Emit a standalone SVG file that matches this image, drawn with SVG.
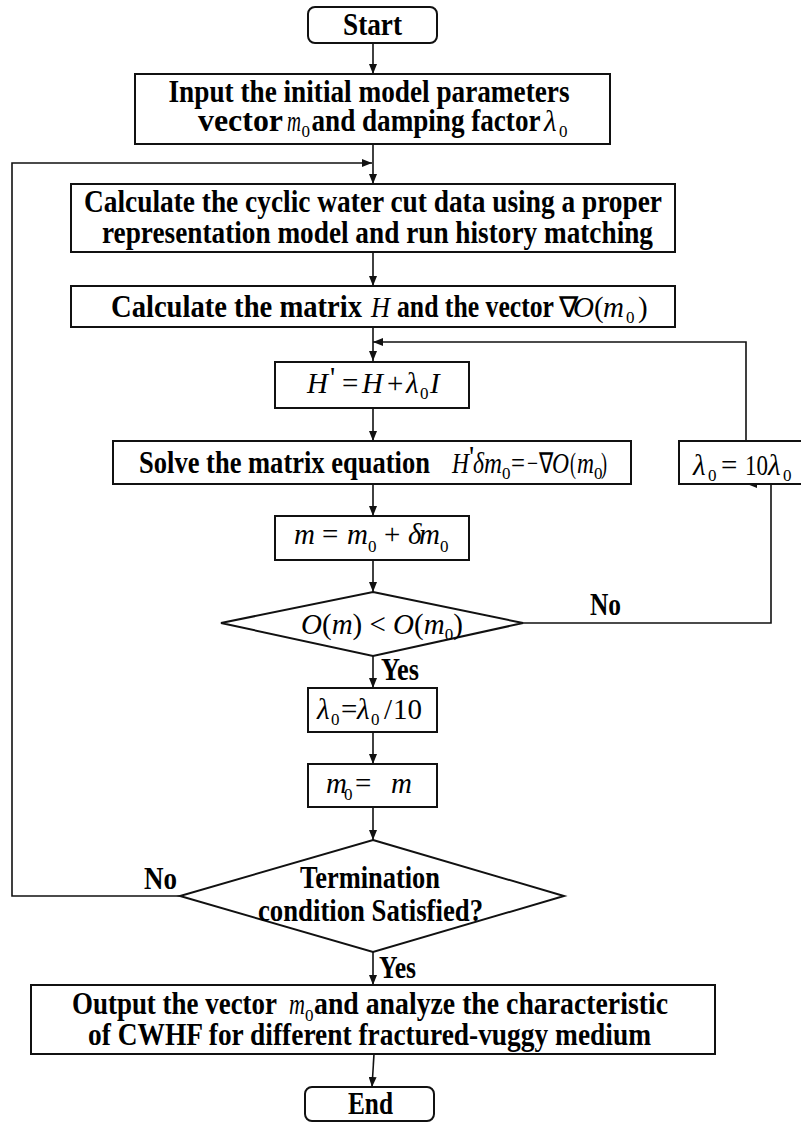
<svg xmlns="http://www.w3.org/2000/svg" width="801" height="1122" viewBox="0 0 801 1122">
<style>
.box{fill:#fff;stroke:#111;stroke-width:2}
.ln{fill:none;stroke:#111;stroke-width:1.6}
.b{font-family:"Liberation Serif","Times New Roman",serif;font-weight:bold;font-size:31px;fill:#000}
.mi{font-family:"Liberation Serif","Times New Roman",serif;font-style:italic;font-size:29px;fill:#000}
.mr{font-family:"Liberation Serif","Times New Roman",serif;font-size:29px;fill:#000}
.sub{font-family:"Liberation Serif","Times New Roman",serif;font-size:17px;fill:#000}
</style>
<defs>
<marker id="ah" markerWidth="10" markerHeight="8" refX="10" refY="4" orient="auto" markerUnits="userSpaceOnUse">
<path d="M0,0 L10,4 L0,8 z" fill="#111"/>
</marker>
</defs>
<rect width="801" height="1122" fill="#fff"/>

<g id="connectors">
<line class="ln" x1="373" y1="43" x2="373" y2="74" marker-end="url(#ah)"/>
<line class="ln" x1="373" y1="144" x2="373" y2="184" marker-end="url(#ah)"/>
<path class="ln" d="M180,896 H12 V163 H372" marker-end="url(#ah)"/>
<line class="ln" x1="373" y1="252" x2="373" y2="286" marker-end="url(#ah)"/>
<line class="ln" x1="373" y1="327" x2="373" y2="361" marker-end="url(#ah)"/>
<path class="ln" d="M746,441 V342 H373" marker-end="url(#ah)"/>
<line class="ln" x1="373" y1="408" x2="373" y2="441" marker-end="url(#ah)"/>
<line class="ln" x1="373" y1="484" x2="373" y2="516" marker-end="url(#ah)"/>
<line class="ln" x1="373" y1="560" x2="373" y2="592" marker-end="url(#ah)"/>
<path class="ln" d="M523,623 H771 V484 H747" marker-end="url(#ah)"/>
<line class="ln" x1="373" y1="656" x2="373" y2="688" marker-end="url(#ah)"/>
<line class="ln" x1="373" y1="732" x2="373" y2="764" marker-end="url(#ah)"/>
<line class="ln" x1="373" y1="807" x2="373" y2="840" marker-end="url(#ah)"/>
<line class="ln" x1="373" y1="952" x2="373" y2="985" marker-end="url(#ah)"/>
<line class="ln" x1="374" y1="1054" x2="372" y2="1087" marker-end="url(#ah)"/>
<text class="b" x="590" y="615" textLength="31" lengthAdjust="spacingAndGlyphs">No</text>
<text class="b" x="381" y="680" textLength="38" lengthAdjust="spacingAndGlyphs">Yes</text>
<text class="b" x="144" y="889" textLength="33" lengthAdjust="spacingAndGlyphs">No</text>
<text class="b" x="379" y="978" textLength="37" lengthAdjust="spacingAndGlyphs">Yes</text>
</g>

<g id="start">
<rect class="box" x="308" y="7" width="129" height="36" rx="7"/>
<text class="b" x="343" y="35" textLength="59" lengthAdjust="spacingAndGlyphs">Start</text>
</g>

<g id="input">
<rect class="box" x="135" y="74" width="475" height="70"/>
<text class="b" x="168.5" y="102" textLength="401" lengthAdjust="spacingAndGlyphs">Input the initial model parameters</text>
<text class="b" x="198" y="131" textLength="85" lengthAdjust="spacingAndGlyphs">vector</text>
<text class="mi" x="287" y="131" textLength="14" lengthAdjust="spacingAndGlyphs">m</text>
<text class="sub" x="301.5" y="137">0</text>
<text class="b" x="311.5" y="131" textLength="229" lengthAdjust="spacingAndGlyphs">and damping factor</text>
<text class="mi" x="544" y="131">λ</text>
<text class="sub" x="559" y="137">0</text>
</g>

<g id="calc-watercut">
<rect class="box" x="71" y="184" width="604" height="68"/>
<text class="b" x="84" y="212" textLength="578" lengthAdjust="spacingAndGlyphs">Calculate the cyclic water cut data using a proper</text>
<text class="b" x="102" y="243" textLength="551" lengthAdjust="spacingAndGlyphs">representation model and run history matching</text>
</g>

<g id="calc-matrix">
<rect class="box" x="71" y="286" width="604" height="41"/>
<text class="b" x="111" y="317" textLength="251" lengthAdjust="spacingAndGlyphs">Calculate the matrix</text>
<text class="mi" x="371" y="317" textLength="19" lengthAdjust="spacingAndGlyphs">H</text>
<text class="b" x="397" y="317" textLength="157" lengthAdjust="spacingAndGlyphs">and the vector</text>
<text class="mr" x="559" y="317" font-size="20">∇</text>
<text class="mi" x="573" y="317" font-size="27">O</text>
<text class="mr" x="594" y="317" font-size="27">(</text>
<text class="mi" x="603" y="317" font-size="27">m</text>
<text class="sub" x="626" y="323" font-size="15">0</text>
<text class="mr" x="638" y="317" font-size="27">)</text>
</g>

<g id="hprime">
<rect class="box" x="275" y="362" width="194" height="46"/>
<text class="mi" x="307" y="393">H</text>
<text class="mr" x="330" y="387" font-size="18">'</text>
<text class="mr" x="342" y="393">=</text>
<text class="mi" x="362" y="393">H</text>
<text class="mr" x="387" y="393">+</text>
<text class="mi" x="406" y="393">λ</text>
<text class="sub" x="420" y="399">0</text>
<text class="mi" x="430" y="393">I</text>
</g>

<g id="solve">
<rect class="box" x="113" y="441" width="518" height="43"/>
<text class="b" x="139" y="473" textLength="291" lengthAdjust="spacingAndGlyphs">Solve the matrix equation</text>
<text class="mi" x="452" y="473" textLength="17" lengthAdjust="spacingAndGlyphs">H</text>
<text class="mr" x="469" y="466" font-size="16">'</text>
<text class="mi" x="473" y="473" textLength="11" lengthAdjust="spacingAndGlyphs">δ</text>
<text class="mi" x="484" y="473" textLength="18" lengthAdjust="spacingAndGlyphs">m</text>
<text class="sub" x="502" y="479" font-size="15">0</text>
<text class="mr" x="511" y="473" textLength="14" lengthAdjust="spacingAndGlyphs">=</text>
<text class="mr" x="527" y="473" textLength="11" lengthAdjust="spacingAndGlyphs">−</text>
<text class="mr" x="539" y="473" font-size="20" textLength="14" lengthAdjust="spacingAndGlyphs">∇</text>
<text class="mi" x="552" y="473" textLength="17" lengthAdjust="spacingAndGlyphs">O</text>
<text class="mr" x="570" y="473" textLength="6" lengthAdjust="spacingAndGlyphs">(</text>
<text class="mi" x="577" y="473" textLength="17" lengthAdjust="spacingAndGlyphs">m</text>
<text class="sub" x="594" y="479" font-size="15">0</text>
<text class="mr" x="601" y="473" textLength="6" lengthAdjust="spacingAndGlyphs">)</text>
</g>

<g id="lambda-up">
<rect class="box" x="679" y="441" width="130" height="43"/>
<text class="mi" x="693" y="475" font-size="31">λ</text>
<text class="sub" x="708" y="481">0</text>
<text class="mr" x="721" y="475" font-size="31">=</text>
<text class="mr" x="745" y="475" font-size="31" textLength="23" lengthAdjust="spacingAndGlyphs">10</text>
<text class="mi" x="768" y="475" font-size="31">λ</text>
<text class="sub" x="783" y="481">0</text>
</g>

<g id="update-m">
<rect class="box" x="275" y="516" width="194" height="44"/>
<text class="mi" x="294" y="544">m</text>
<text class="mr" x="322" y="544">=</text>
<text class="mi" x="347" y="544">m</text>
<text class="sub" x="368" y="552">0</text>
<text class="mr" x="384" y="544">+</text>
<text class="mi" x="408" y="544">δ</text>
<text class="mi" x="419" y="544">m</text>
<text class="sub" x="440" y="552">0</text>
</g>

<g id="decision-O">
<polygon class="box" points="373,592 523,623 373,656 221,623"/>
<text x="301" y="634"><tspan class="mi">O</tspan><tspan class="mr">(</tspan><tspan class="mi">m</tspan><tspan class="mr">) &lt; </tspan><tspan class="mi">O</tspan><tspan class="mr">(</tspan><tspan class="mi">m</tspan><tspan class="sub" dy="6">0</tspan><tspan class="mr" dy="-6">)</tspan></text>
</g>

<g id="lambda-down">
<rect class="box" x="308" y="688" width="129" height="44"/>
<text class="mi" x="317" y="719" font-size="28">λ</text>
<text class="sub" x="331" y="725">0</text>
<text class="mr" x="341" y="719" font-size="25">=</text>
<text class="mi" x="357" y="719" font-size="28">λ</text>
<text class="sub" x="371" y="725">0</text>
<text class="mr" x="384" y="719">/</text>
<text class="mr" x="393" y="719">10</text>
</g>

<g id="assign-m0">
<rect class="box" x="308" y="764" width="129" height="43"/>
<text class="mi" x="326" y="793" font-size="26">m</text>
<text class="sub" x="344" y="800" font-size="15">0</text>
<text class="mr" x="355" y="793" font-size="26">=</text>
<text class="mi" x="391" y="793" font-size="26">m</text>
</g>

<g id="termination">
<polygon class="box" points="373,840 564,896 373,952 180,896"/>
<text class="b" x="300" y="888" textLength="140" lengthAdjust="spacingAndGlyphs">Termination</text>
<text class="b" x="258" y="921" textLength="225" lengthAdjust="spacingAndGlyphs">condition Satisfied?</text>
</g>

<g id="output">
<rect class="box" x="31" y="985" width="684" height="69"/>
<text class="b" x="72" y="1014" textLength="205" lengthAdjust="spacingAndGlyphs">Output the vector</text>
<text class="mi" x="289" y="1014" textLength="16" lengthAdjust="spacingAndGlyphs">m</text>
<text class="sub" x="305" y="1021">0</text>
<text class="b" x="314" y="1014" textLength="354" lengthAdjust="spacingAndGlyphs">and analyze the characteristic</text>
<text class="b" x="88" y="1045" textLength="563" lengthAdjust="spacingAndGlyphs">of CWHF for different fractured-vuggy medium</text>
</g>

<g id="end">
<rect class="box" x="305" y="1087" width="129" height="34" rx="7"/>
<text class="b" x="348" y="1114" textLength="45" lengthAdjust="spacingAndGlyphs">End</text>
</g>
</svg>
